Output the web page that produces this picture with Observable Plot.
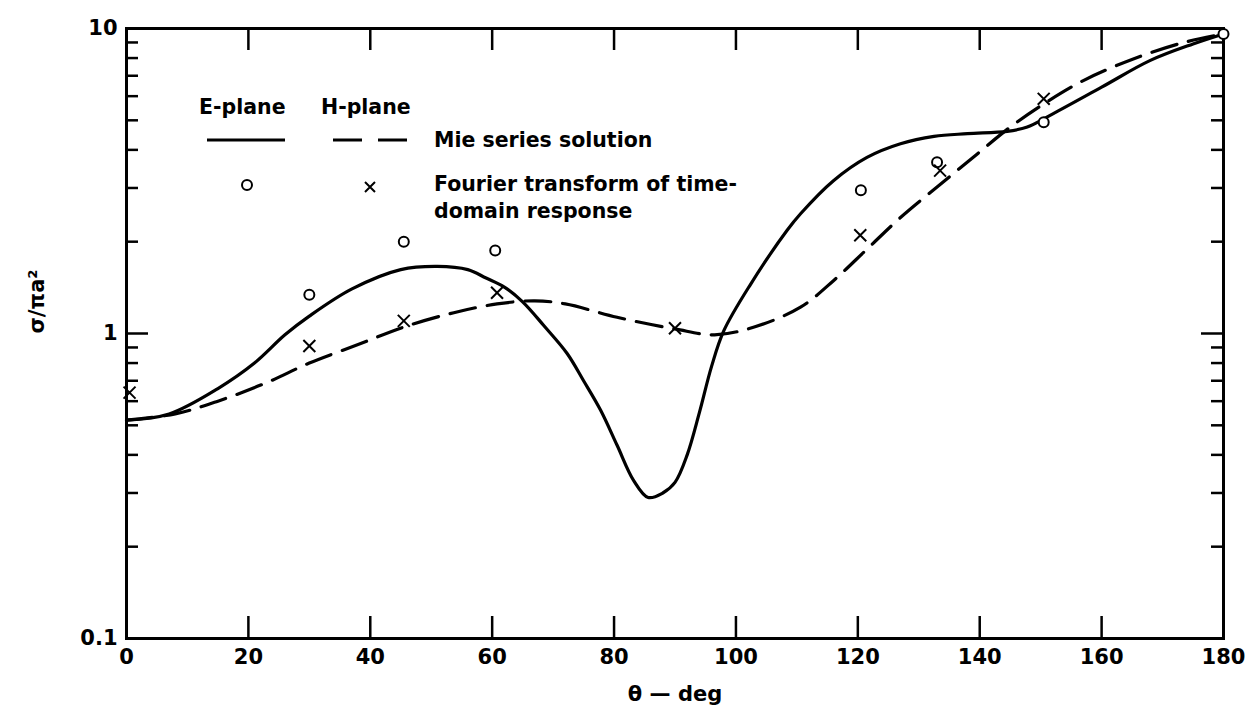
<!DOCTYPE html>
<html><head><meta charset="utf-8">
<script src="https://cdn.jsdelivr.net/npm/d3@7"></script>
<script src="https://cdn.jsdelivr.net/npm/@observablehq/plot@0.6"></script>
<style>body{margin:0;background:#fff;} svg{display:block;}</style>
</head><body><div id="chart"></div>
<script>
// Mie series solution, E-plane (solid)
const eMieTheta = [0, 7, 15, 21, 26, 30, 37, 45, 51, 56, 59, 62, 65, 68.5, 72.3, 75, 77.8, 80.5, 83.2, 85.6, 88, 90, 92, 94, 96, 98, 102.4, 108.4, 110.6, 116, 121.5, 127, 132.5, 138, 144.5, 147.8, 152, 160, 168, 175, 180];
const eMieValue = [0.52, 0.545, 0.66, 0.8, 0.99, 1.14, 1.40, 1.62, 1.66, 1.62, 1.52, 1.42, 1.27, 1.06, 0.86, 0.70, 0.56, 0.43, 0.33, 0.29, 0.30, 0.325, 0.40, 0.55, 0.78, 1.02, 1.45, 2.18, 2.47, 3.17, 3.78, 4.19, 4.43, 4.52, 4.6, 4.75, 5.25, 6.42, 7.86, 8.9, 9.6];
// Mie series solution, H-plane (dashed)
const hMieTheta = [0, 8, 15, 23, 30, 38, 45.5, 53.7, 60.8, 67, 72, 80.5, 90, 96.5, 103, 110.6, 116, 121.5, 127, 133.6, 139.6, 145, 150.5, 157, 165.3, 173.5, 180];
const hMieValue = [0.52, 0.545, 0.60, 0.69, 0.80, 0.92, 1.05, 1.17, 1.25, 1.28, 1.25, 1.13, 1.035, 0.99, 1.05, 1.22, 1.49, 1.89, 2.40, 3.09, 3.88, 4.75, 5.66, 6.75, 7.96, 9.0, 9.6];
// Fourier transform of time-domain response, E-plane (circles)
const eFtTheta = [30, 45.5, 60.5, 120.5, 133, 150.5, 180];
const eFtValue = [1.34, 2.0, 1.87, 2.95, 3.64, 4.93, 9.6];
// Fourier transform of time-domain response, H-plane (crosses)
const hFtTheta = [0.5, 30, 45.5, 60.8, 90, 120.4, 133.5, 150.5];
const hFtValue = [0.64, 0.91, 1.10, 1.36, 1.04, 2.1, 3.42, 5.88];

const xTickLabels = [0, 20, 40, 60, 80, 100, 120, 140, 160, 180];
const xInnerTicks = [20, 40, 60, 80, 100, 120, 140, 160];
const yTickLabels = [0.1, 1, 10];
const yMinorTicks = [0.2, 0.3, 0.4, 0.5, 0.6, 0.7, 0.8, 0.9, 2, 3, 4, 5, 6, 7, 8, 9];
const yMajorInner = [1];

const W = 1251, H = 717, mL = 126, mR = 28, mT = 28, mB = 79;
const iw = W - mL - mR, ih = H - mT - mB;
const font = "DejaVu Sans";
const fw = "bold";

const eMie = eMieTheta.map((t, i) => ({t, v: eMieValue[i]}));
const hMie = hMieTheta.map((t, i) => ({t, v: hMieValue[i]}));
const eFt = eFtTheta.map((t, i) => ({t, v: eFtValue[i]}));
const hFt = hFtTheta.map((t, i) => ({t, v: hFtValue[i]}));

function legend() {
  const g = d3.create("svg:g")
    .attr("font-family", font).attr("font-weight", fw).attr("font-size", 20.5)
    .attr("fill", "black").attr("text-anchor", "start");
  g.append("text").attr("x", 199).attr("y", 114).text("E-plane");
  g.append("text").attr("x", 321).attr("y", 114).text("H-plane");
  g.append("line").attr("x1", 207).attr("x2", 285).attr("y1", 140).attr("y2", 140)
    .attr("stroke", "black").attr("stroke-width", 3.2);
  g.append("line").attr("x1", 333).attr("x2", 408).attr("y1", 140).attr("y2", 140)
    .attr("stroke", "black").attr("stroke-width", 3.2).attr("stroke-dasharray", "29,16");
  g.append("text").attr("x", 434).attr("y", 147).text("Mie series solution");
  g.append("circle").attr("cx", 247).attr("cy", 185).attr("r", 5)
    .attr("fill", "white").attr("stroke", "black").attr("stroke-width", 2);
  g.append("path").attr("d", "M365,182L375,192M375,182L365,192")
    .attr("stroke", "black").attr("stroke-width", 2);
  g.append("text").attr("x", 434).attr("y", 191).text("Fourier transform of time-");
  g.append("text").attr("x", 434).attr("y", 218).text("domain response");
  return g.node();
}

const chart = Plot.plot({
  width: W, height: H,
  marginLeft: mL, marginRight: mR, marginTop: mT, marginBottom: mB,
  style: {fontFamily: font, background: "white", color: "black"},
  x: {domain: [0, 180]},
  y: {type: "log", domain: [0.1, 10]},
  marks: [
    Plot.tickX(xInnerTicks, {x: d => d, insetTop: ih - 22, strokeWidth: 2.5}),
    Plot.tickX(xInnerTicks, {x: d => d, insetBottom: ih - 22, strokeWidth: 2.5}),
    Plot.tickY(yMinorTicks, {y: d => d, insetRight: iw - 12, strokeWidth: 2.5}),
    Plot.tickY(yMinorTicks, {y: d => d, insetLeft: iw - 12, strokeWidth: 2.5}),
    Plot.tickY(yMajorInner, {y: d => d, insetRight: iw - 22, strokeWidth: 2.5}),
    Plot.tickY(yMajorInner, {y: d => d, insetLeft: iw - 22, strokeWidth: 2.5}),
    Plot.axisX({ticks: xTickLabels, tickSize: 0, tickPadding: 11, fontSize: 21, fontWeight: fw, label: null}),
    Plot.axisY({ticks: yTickLabels, tickFormat: d => d === 0.1 ? "0.1" : String(d), tickSize: 0, tickPadding: 9, fontSize: 21, fontWeight: fw, label: null}),
    Plot.line(eMie, {x: "t", y: "v", curve: "catmull-rom", stroke: "black", strokeWidth: 3.2}),
    Plot.line(hMie, {x: "t", y: "v", curve: "catmull-rom", stroke: "black", strokeWidth: 3.2, strokeDasharray: "26,12"}),
    Plot.frame({stroke: "black", strokeWidth: 3}),
    Plot.dot(eFt, {x: "t", y: "v", r: 5, symbol: "circle", fill: "white", stroke: "black", strokeWidth: 2}),
    Plot.dot(hFt, {x: "t", y: "v", r: 5.5, symbol: "times", stroke: "black", strokeWidth: 2}),
    Plot.text(["θ — deg"], {frameAnchor: "bottom", dy: 62, fontSize: 21, fontWeight: fw}),
    Plot.text(["σ/πa²"], {frameAnchor: "left", dx: -89, rotate: -90, fontSize: 21, fontWeight: fw}),
    legend
  ]
});
document.getElementById("chart").append(chart);
</script>
</body></html>
